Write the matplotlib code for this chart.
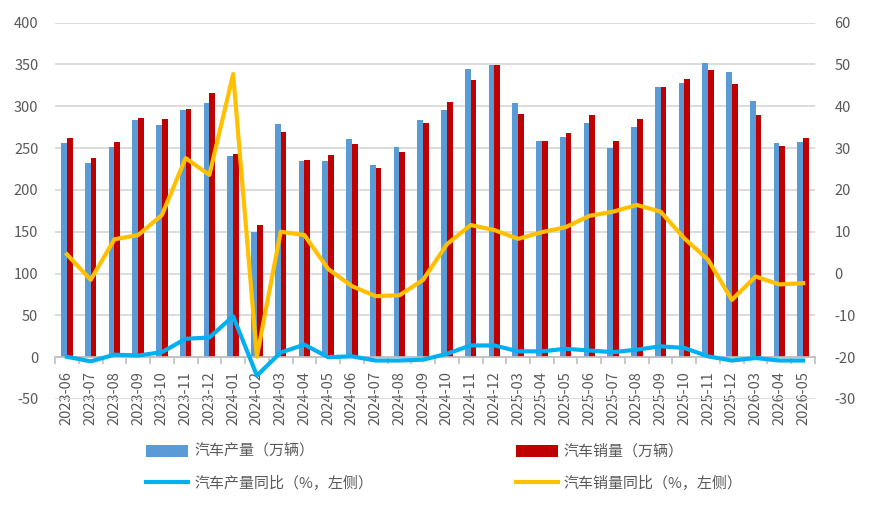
import matplotlib
matplotlib.use("Agg")
import matplotlib.pyplot as plt
import numpy as np
from matplotlib.ticker import FixedLocator

plt.rcParams["font.family"] = ["Noto Sans CJK SC", "DejaVu Sans"]
plt.rcParams["axes.unicode_minus"] = False

months = ["2023-06", "2023-07", "2023-08", "2023-09", "2023-10", "2023-11", "2023-12",
          "2024-01", "2024-02", "2024-03", "2024-04", "2024-05", "2024-06", "2024-07",
          "2024-08", "2024-09", "2024-10", "2024-11", "2024-12",
          "2025-03", "2025-04", "2025-05", "2025-06", "2025-07", "2025-08", "2025-09",
          "2025-10", "2025-11", "2025-12", "2026-03", "2026-04", "2026-05"]

production = [256, 232, 251, 283.5, 277.5, 295.5, 304, 240, 150, 279, 234.5, 234.5, 261,
              230, 251, 283.5, 295.5, 344.5, 349.5,
              304, 259, 263, 280, 250, 275, 323, 328, 351.7, 341, 306, 256, 257]
sales = [262, 238, 257, 286, 285, 297, 316, 243, 158, 269, 236, 242, 255,
         226, 245, 280, 305, 331.5, 349.7,
         291, 258, 268, 289.5, 258, 285, 323, 332.5, 343.4, 326.6, 289.5, 252, 262]
production_yoy = [0.5, -5, 3, 2, 6, 22, 23.5, 49, -22, 5.5, 15, 0, 1, -4, -4, -3, 4, 14, 14,
                  7, 7, 10, 8, 6, 9, 13, 11, 1, -4, -1, -4, -4]
sales_yoy = [4.6, -1.5, 8.2, 9.2, 14, 27.6, 23.6, 47.7, -19.9, 10, 9.2, 1.1, -3, -5.4, -5.2,
             -1.5, 7, 11.6, 10.4,
             8.3, 9.9, 11.1, 13.8, 14.8, 16.4, 14.8, 8.4, 3.3, -6.3, -0.7, -2.6, -2.3]

text_color = "#595959"
grid_color = "#D9D9D9"

fig = plt.figure(figsize=(8.75, 5.11), dpi=100)
ax = fig.add_axes([0.0629, 0.2192, 0.8685, 0.7364])
ax2 = ax.twinx()

x = np.arange(len(months))
w = 0.24
b1 = ax.bar(x - w / 2, production, w, color="#5B9BD5", label="汽车产量（万辆）", zorder=2)
b2 = ax.bar(x + w / 2, sales, w, color="#C00000", label="汽车销量（万辆）", zorder=2)
l1, = ax.plot(x, production_yoy, color="#00B0F0", lw=3, label="汽车产量同比（%，左侧）",
              zorder=3, solid_joinstyle="round")
l2, = ax2.plot(x, sales_yoy, color="#FFC000", lw=3, label="汽车销量同比（%，左侧）",
               zorder=3, solid_joinstyle="round")

ax.set_xlim(-0.5, len(months) - 0.5)
ax.set_ylim(-50, 400)
ax.set_yticks(np.arange(-50, 401, 50))
ax2.set_ylim(-30, 60)
ax2.set_yticks(np.arange(-30, 61, 10))

ax.grid(axis="y", color=grid_color, lw=1.3, zorder=0)
ax.set_axisbelow(True)

for a in (ax, ax2):
    for s in ("top", "left", "right", "bottom"):
        a.spines[s].set_visible(False)
ax.spines["bottom"].set_visible(True)
ax.spines["bottom"].set_position(("data", 0))
ax.spines["bottom"].set_color("#BFBFBF")
ax.spines["bottom"].set_linewidth(1.2)

ax.set_xticks(x)
ax.set_xticklabels(months, rotation=90, fontsize=10.5, color=text_color)
ax.xaxis.set_minor_locator(FixedLocator(np.arange(-0.5, len(months), 1.0)))
ax.tick_params(axis="x", which="major", length=0, pad=10)
ax.tick_params(axis="x", which="minor", length=5, color="#BFBFBF", width=1.2)
ax.tick_params(axis="y", length=0, pad=12, labelsize=10.5, labelcolor=text_color)
ax2.tick_params(axis="y", length=0, pad=14, labelsize=10.5, labelcolor=text_color)

fig.legend([b1, l1, b2, l2],
           ["汽车产量（万辆）", "汽车产量同比（%，左侧）", "汽车销量（万辆）", "汽车销量同比（%，左侧）"],
           ncol=2, loc="center", bbox_to_anchor=(0.508, 0.085), frameon=False,
           fontsize=10.8, labelcolor=text_color, handlelength=2.8, handleheight=0.9,
           columnspacing=9.5, labelspacing=1.1, handletextpad=0.4)

fig.savefig("out.png", dpi=100)
